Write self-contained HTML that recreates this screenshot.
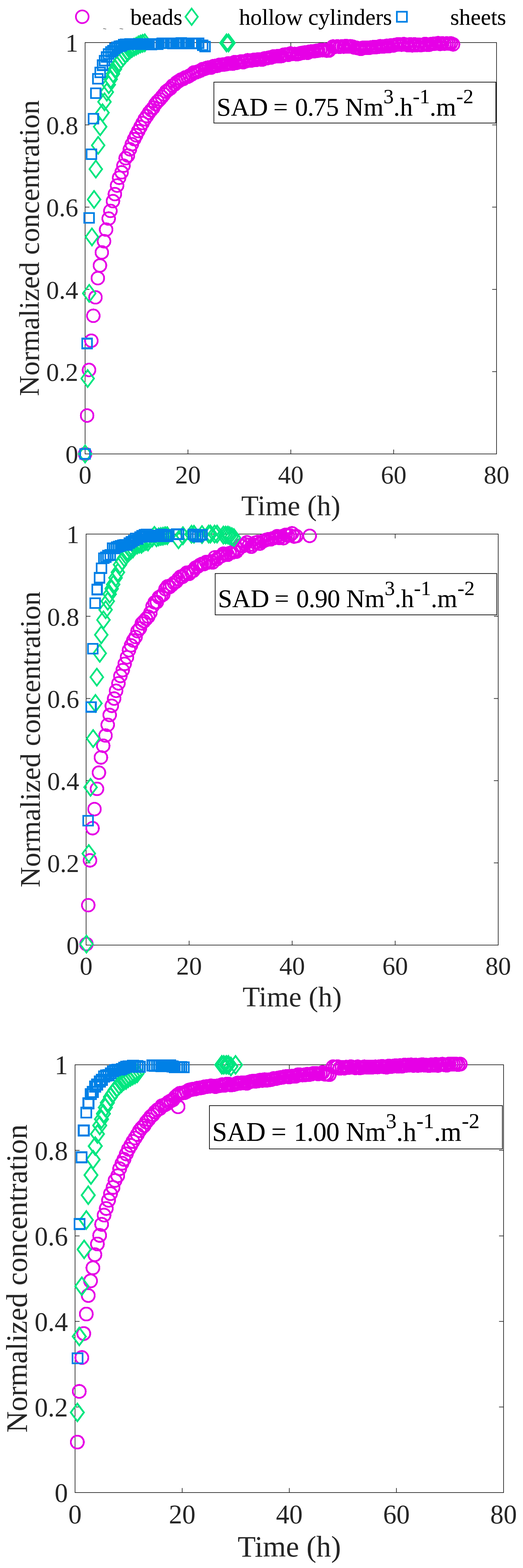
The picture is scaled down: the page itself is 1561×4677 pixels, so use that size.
<!DOCTYPE html>
<html lang="en">
<head>
<meta charset="utf-8">
<title>Normalized concentration vs time</title>
<style>
html,body{margin:0;padding:0;background:#fff;}
body{width:1561px;height:4677px;overflow:hidden;}
svg{display:block;font-family:'Liberation Serif', 'DejaVu Serif', serif;}
</style>
</head>
<body>
<svg width="1561" height="4677" viewBox="0 0 1561 4677" role="img" aria-label="Normalized concentration versus time for beads, hollow cylinders and sheets at three SAD values">
<rect width="1561" height="4677" fill="#fff"/>
<g class="plot">
<rect x="254" y="127" width="1228" height="1227" fill="none" stroke="#262626" stroke-width="2"/>
<path d="M254 1354v-13M254 127v13M561 1354v-13M561 127v13M868 1354v-13M868 127v13M1175 1354v-13M1175 127v13M1482 1354v-13M1482 127v13M254 1354h13M1482 1354h-13M254 1108.6h13M1482 1108.6h-13M254 863.2h13M1482 863.2h-13M254 617.8h13M1482 617.8h-13M254 372.4h13M1482 372.4h-13M254 127h13M1482 127h-13" stroke="#262626" stroke-width="2" fill="none"/>
<g font-size="76.5" fill="#262626">
<text x="254" y="1442" text-anchor="middle">0</text>
<text x="561" y="1442" text-anchor="middle">20</text>
<text x="868" y="1442" text-anchor="middle">40</text>
<text x="1175" y="1442" text-anchor="middle">60</text>
<text x="1482" y="1442" text-anchor="middle">80</text>
<text x="233.5" y="1381.3" text-anchor="end">0</text>
<text x="233.5" y="1135.9" text-anchor="end">0.2</text>
<text x="233.5" y="890.5" text-anchor="end">0.4</text>
<text x="233.5" y="645.1" text-anchor="end">0.6</text>
<text x="233.5" y="399.7" text-anchor="end">0.8</text>
<text x="233.5" y="154.3" text-anchor="end">1</text>
</g>
<text x="868" y="1537" font-size="84.8" fill="#262626" text-anchor="middle">Time (h)</text>
<text transform="translate(116 740) rotate(-90)" font-size="84.8" fill="#262626" text-anchor="middle">Normalized concentration</text>
<g fill="none" stroke="#E600E6" stroke-width="5.3" shape-rendering="crispEdges">
<circle cx="254" cy="1354" r="18.9"/>
<circle cx="260" cy="1239.5" r="18.9"/>
<circle cx="265.7" cy="1103.5" r="18.9"/>
<circle cx="272.7" cy="1016.3" r="18.9"/>
<circle cx="278.5" cy="941.9" r="18.9"/>
<circle cx="285" cy="887" r="18.9"/>
<circle cx="292" cy="829.7" r="18.9"/>
<circle cx="298.3" cy="791.9" r="18.9"/>
<circle cx="304" cy="753" r="18.9"/>
<circle cx="310.5" cy="719.5" r="18.9"/>
<circle cx="316.7" cy="684.9" r="18.9"/>
<circle cx="324.4" cy="651.9" r="18.9"/>
<circle cx="329.5" cy="629" r="18.9"/>
<circle cx="337.2" cy="600" r="18.9"/>
<circle cx="342.8" cy="579" r="18.9"/>
<circle cx="349.5" cy="553.5" r="18.9"/>
<circle cx="355.6" cy="530.2" r="18.9"/>
<circle cx="363" cy="514" r="18.9"/>
<circle cx="368.4" cy="494.2" r="18.9"/>
<circle cx="374.9" cy="472" r="18.9"/>
<circle cx="381.9" cy="464" r="18.9"/>
<circle cx="387.7" cy="445.3" r="18.9"/>
<circle cx="393.5" cy="430.2" r="18.9"/>
<circle cx="400.5" cy="415" r="18.9"/>
<circle cx="406.3" cy="403.5" r="18.9"/>
<circle cx="412.7" cy="391" r="18.9"/>
<circle cx="419.1" cy="378.9" r="18.9"/>
<circle cx="425.5" cy="367" r="18.9"/>
<circle cx="431.9" cy="355.5" r="18.9"/>
<circle cx="438.3" cy="346.3" r="18.9"/>
<circle cx="444.7" cy="336.3" r="18.9"/>
<circle cx="451.1" cy="328.5" r="18.9"/>
<circle cx="457.5" cy="321.2" r="18.9"/>
<circle cx="463.9" cy="310.4" r="18.9"/>
<circle cx="470.3" cy="302.7" r="18.9"/>
<circle cx="476.7" cy="296.6" r="18.9"/>
<circle cx="483.1" cy="289.1" r="18.9"/>
<circle cx="489.4" cy="281.6" r="18.9"/>
<circle cx="495.8" cy="273.2" r="18.9"/>
<circle cx="502.2" cy="268.2" r="18.9"/>
<circle cx="508.6" cy="263.6" r="18.9"/>
<circle cx="515" cy="255.6" r="18.9"/>
<circle cx="521.4" cy="251.9" r="18.9"/>
<circle cx="527.8" cy="245.4" r="18.9"/>
<circle cx="534.2" cy="241.6" r="18.9"/>
<circle cx="540.6" cy="237.3" r="18.9"/>
<circle cx="547" cy="235.5" r="18.9"/>
<circle cx="553.4" cy="230.8" r="18.9"/>
<circle cx="559.8" cy="229.2" r="18.9"/>
<circle cx="566.2" cy="225.6" r="18.9"/>
<circle cx="572.6" cy="221.8" r="18.9"/>
<circle cx="579" cy="216" r="18.9"/>
<circle cx="585.4" cy="215.5" r="18.9"/>
<circle cx="591.8" cy="213.2" r="18.9"/>
<circle cx="598.2" cy="210.6" r="18.9"/>
<circle cx="604.6" cy="206.4" r="18.9"/>
<circle cx="611" cy="205.3" r="18.9"/>
<circle cx="617.4" cy="202.6" r="18.9"/>
<circle cx="623.8" cy="201.1" r="18.9"/>
<circle cx="630.2" cy="201.6" r="18.9"/>
<circle cx="636.6" cy="197.6" r="18.9"/>
<circle cx="642.9" cy="196.7" r="18.9"/>
<circle cx="649.3" cy="196.1" r="18.9"/>
<circle cx="655.7" cy="193.4" r="18.9"/>
<circle cx="662.1" cy="193" r="18.9"/>
<circle cx="668.5" cy="192.4" r="18.9"/>
<circle cx="674.9" cy="191.4" r="18.9"/>
<circle cx="681.3" cy="189" r="18.9"/>
<circle cx="687.7" cy="189.6" r="18.9"/>
<circle cx="694.1" cy="190" r="18.9"/>
<circle cx="700.5" cy="185.4" r="18.9"/>
<circle cx="706.9" cy="187.2" r="18.9"/>
<circle cx="713.3" cy="185.2" r="18.9"/>
<circle cx="719.7" cy="183.2" r="18.9"/>
<circle cx="726.1" cy="185.5" r="18.9"/>
<circle cx="732.5" cy="183.1" r="18.9"/>
<circle cx="738.9" cy="179.9" r="18.9"/>
<circle cx="745.3" cy="180.5" r="18.9"/>
<circle cx="751.7" cy="180.3" r="18.9"/>
<circle cx="758.1" cy="178.5" r="18.9"/>
<circle cx="764.5" cy="178.8" r="18.9"/>
<circle cx="770.9" cy="177.1" r="18.9"/>
<circle cx="777.3" cy="177.2" r="18.9"/>
<circle cx="783.7" cy="177.4" r="18.9"/>
<circle cx="790.1" cy="174" r="18.9"/>
<circle cx="796.4" cy="173.9" r="18.9"/>
<circle cx="802.8" cy="171.9" r="18.9"/>
<circle cx="809.2" cy="171.4" r="18.9"/>
<circle cx="815.6" cy="168.6" r="18.9"/>
<circle cx="822" cy="168.1" r="18.9"/>
<circle cx="828.4" cy="167.5" r="18.9"/>
<circle cx="834.8" cy="167.8" r="18.9"/>
<circle cx="841.2" cy="167" r="18.9"/>
<circle cx="847.6" cy="163" r="18.9"/>
<circle cx="854" cy="162.6" r="18.9"/>
<circle cx="860.4" cy="163.5" r="18.9"/>
<circle cx="866.8" cy="159.7" r="18.9"/>
<circle cx="873.2" cy="161" r="18.9"/>
<circle cx="879.6" cy="160.9" r="18.9"/>
<circle cx="886" cy="161.8" r="18.9"/>
<circle cx="892.4" cy="160.4" r="18.9"/>
<circle cx="898.8" cy="158.4" r="18.9"/>
<circle cx="905.2" cy="157.4" r="18.9"/>
<circle cx="911.6" cy="156.4" r="18.9"/>
<circle cx="918" cy="157.5" r="18.9"/>
<circle cx="924.4" cy="154.1" r="18.9"/>
<circle cx="930.8" cy="153.1" r="18.9"/>
<circle cx="937.2" cy="153" r="18.9"/>
<circle cx="943.6" cy="151.8" r="18.9"/>
<circle cx="949.9" cy="151.1" r="18.9"/>
<circle cx="956.3" cy="149.3" r="18.9"/>
<circle cx="962.7" cy="150" r="18.9"/>
<circle cx="969.1" cy="148.8" r="18.9"/>
<circle cx="975.5" cy="151.1" r="18.9"/>
<circle cx="981.9" cy="150.8" r="18.9"/>
<circle cx="994" cy="138.8" r="18.9"/>
<circle cx="1000.4" cy="139.5" r="18.9"/>
<circle cx="1006.8" cy="138.4" r="18.9"/>
<circle cx="1013.2" cy="139.7" r="18.9"/>
<circle cx="1019.6" cy="138.6" r="18.9"/>
<circle cx="1026" cy="139.2" r="18.9"/>
<circle cx="1032.4" cy="137.3" r="18.9"/>
<circle cx="1038.8" cy="138.9" r="18.9"/>
<circle cx="1045.2" cy="138" r="18.9"/>
<circle cx="1051.6" cy="138.9" r="18.9"/>
<circle cx="1058" cy="142" r="18.9"/>
<circle cx="1064.4" cy="142.7" r="18.9"/>
<circle cx="1070.8" cy="144.2" r="18.9"/>
<circle cx="1077.1" cy="145.9" r="18.9"/>
<circle cx="1083.5" cy="142.5" r="18.9"/>
<circle cx="1089.9" cy="142.4" r="18.9"/>
<circle cx="1096.3" cy="142.8" r="18.9"/>
<circle cx="1102.7" cy="142.4" r="18.9"/>
<circle cx="1109.1" cy="141.1" r="18.9"/>
<circle cx="1115.5" cy="140.4" r="18.9"/>
<circle cx="1121.9" cy="140.6" r="18.9"/>
<circle cx="1128.3" cy="139.8" r="18.9"/>
<circle cx="1134.7" cy="137.9" r="18.9"/>
<circle cx="1141.1" cy="138.5" r="18.9"/>
<circle cx="1147.5" cy="138.2" r="18.9"/>
<circle cx="1153.9" cy="136.8" r="18.9"/>
<circle cx="1160.3" cy="137.7" r="18.9"/>
<circle cx="1166.7" cy="135.5" r="18.9"/>
<circle cx="1173.1" cy="136" r="18.9"/>
<circle cx="1179.5" cy="133.9" r="18.9"/>
<circle cx="1185.9" cy="132.7" r="18.9"/>
<circle cx="1192.3" cy="132.4" r="18.9"/>
<circle cx="1198.7" cy="133.2" r="18.9"/>
<circle cx="1205.1" cy="131.7" r="18.9"/>
<circle cx="1211.5" cy="132.9" r="18.9"/>
<circle cx="1217.9" cy="134.7" r="18.9"/>
<circle cx="1224.3" cy="132.3" r="18.9"/>
<circle cx="1230.6" cy="135.2" r="18.9"/>
<circle cx="1237" cy="132.5" r="18.9"/>
<circle cx="1243.4" cy="134.9" r="18.9"/>
<circle cx="1249.8" cy="133.2" r="18.9"/>
<circle cx="1256.2" cy="134.6" r="18.9"/>
<circle cx="1262.6" cy="133.5" r="18.9"/>
<circle cx="1269" cy="131.3" r="18.9"/>
<circle cx="1275.4" cy="133.6" r="18.9"/>
<circle cx="1281.8" cy="133.3" r="18.9"/>
<circle cx="1288.2" cy="131.2" r="18.9"/>
<circle cx="1294.6" cy="130.5" r="18.9"/>
<circle cx="1301" cy="130.1" r="18.9"/>
<circle cx="1307.4" cy="128.8" r="18.9"/>
<circle cx="1313.8" cy="131.1" r="18.9"/>
<circle cx="1320.2" cy="129.6" r="18.9"/>
<circle cx="1326.6" cy="130.3" r="18.9"/>
<circle cx="1333" cy="129.7" r="18.9"/>
<circle cx="1339.4" cy="130" r="18.9"/>
<circle cx="1345.8" cy="129.6" r="18.9"/>
<circle cx="1352.2" cy="132.3" r="18.9"/>
</g>
<g fill="none" stroke="#00E680" stroke-width="5.2" stroke-linejoin="miter" stroke-miterlimit="10" shape-rendering="crispEdges">
<path d="M254 1328.7l18.9 25.3l-18.9 25.3l-18.9 -25.3zM261.6 1103.7l18.9 25.3l-18.9 25.3l-18.9 -25.3zM266.3 849.7l18.9 25.3l-18.9 25.3l-18.9 -25.3zM274.4 681.4l18.9 25.3l-18.9 25.3l-18.9 -25.3zM280.8 569.7l18.9 25.3l-18.9 25.3l-18.9 -25.3zM286 479.1l18.9 25.3l-18.9 25.3l-18.9 -25.3zM293 408.2l18.9 25.3l-18.9 25.3l-18.9 -25.3zM299 352.7l18.9 25.3l-18.9 25.3l-18.9 -25.3zM306 311l18.9 25.3l-18.9 25.3l-18.9 -25.3zM311.9 278.4l18.9 25.3l-18.9 25.3l-18.9 -25.3zM318.8 249.3l18.9 25.3l-18.9 25.3l-18.9 -25.3zM324.6 227.3l18.9 25.3l-18.9 25.3l-18.9 -25.3z"/>
<path d="M330.5 211l18.9 25.3l-18.9 25.3l-18.9 -25.3zM337.4 194.7l18.9 25.3l-18.9 25.3l-18.9 -25.3zM343.3 180.7l18.9 25.3l-18.9 25.3l-18.9 -25.3zM349 169.1l18.9 25.3l-18.9 25.3l-18.9 -25.3zM355.4 160.5l18.9 25.3l-18.9 25.3l-18.9 -25.3zM361.8 152.5l18.9 25.3l-18.9 25.3l-18.9 -25.3zM368.2 144.6l18.9 25.3l-18.9 25.3l-18.9 -25.3zM374.6 136.8l18.9 25.3l-18.9 25.3l-18.9 -25.3zM381 130.6l18.9 25.3l-18.9 25.3l-18.9 -25.3zM387.4 124.1l18.9 25.3l-18.9 25.3l-18.9 -25.3zM393.8 119.5l18.9 25.3l-18.9 25.3l-18.9 -25.3zM400.2 115.5l18.9 25.3l-18.9 25.3l-18.9 -25.3z"/>
<path d="M406.6 112.7l18.9 25.3l-18.9 25.3l-18.9 -25.3zM413 108.6l18.9 25.3l-18.9 25.3l-18.9 -25.3zM419.4 106l18.9 25.3l-18.9 25.3l-18.9 -25.3zM425.8 104.1l18.9 25.3l-18.9 25.3l-18.9 -25.3zM432.1 102.4l18.9 25.3l-18.9 25.3l-18.9 -25.3zM676 102.7l18.9 25.3l-18.9 25.3l-18.9 -25.3zM682 102.7l18.9 25.3l-18.9 25.3l-18.9 -25.3z"/>
</g>
<g fill="none" stroke="#0080E6" stroke-width="5.2" shape-rendering="crispEdges">
<rect x="239.6" y="1339.5" width="28.9" height="28.9"/>
<rect x="245.6" y="1010" width="28.9" height="28.9"/>
<rect x="251.9" y="635.3" width="28.9" height="28.9"/>
<rect x="258.2" y="445.2" width="28.9" height="28.9"/>
<rect x="264.1" y="339.4" width="28.9" height="28.9"/>
<rect x="271.1" y="263.2" width="28.9" height="28.9"/>
<rect x="277.2" y="220.8" width="28.9" height="28.9"/>
<rect x="284.6" y="201.6" width="28.9" height="28.9"/>
<rect x="291.2" y="180" width="28.9" height="28.9"/>
<rect x="297.4" y="166.8" width="28.9" height="28.9"/>
<rect x="303.6" y="155.2" width="28.9" height="28.9"/>
<rect x="309.9" y="146.9" width="28.9" height="28.9"/>
<rect x="316.2" y="140.6" width="28.9" height="28.9"/>
<rect x="322.6" y="136.1" width="28.9" height="28.9"/>
<rect x="328.6" y="130.1" width="28.9" height="28.9"/>
<rect x="334.9" y="126.2" width="28.9" height="28.9"/>
<rect x="341.3" y="123.9" width="28.9" height="28.9"/>
<rect x="347.7" y="122.4" width="28.9" height="28.9"/>
<rect x="354.1" y="118.7" width="28.9" height="28.9"/>
<rect x="360.5" y="117.4" width="28.9" height="28.9"/>
<rect x="366.9" y="117.1" width="28.9" height="28.9"/>
<rect x="373.3" y="116.4" width="28.9" height="28.9"/>
<rect x="379.7" y="117.8" width="28.9" height="28.9"/>
<rect x="386.1" y="117.3" width="28.9" height="28.9"/>
<rect x="392.5" y="117.2" width="28.9" height="28.9"/>
<rect x="398.9" y="116.7" width="28.9" height="28.9"/>
<rect x="405.3" y="117.3" width="28.9" height="28.9"/>
<rect x="411.7" y="116.8" width="28.9" height="28.9"/>
<rect x="418.1" y="117" width="28.9" height="28.9"/>
<rect x="424.5" y="116.5" width="28.9" height="28.9"/>
<rect x="430.9" y="116.5" width="28.9" height="28.9"/>
<rect x="437.3" y="118" width="28.9" height="28.9"/>
<rect x="443.7" y="116.9" width="28.9" height="28.9"/>
<rect x="450.1" y="117.3" width="28.9" height="28.9"/>
<rect x="456.5" y="117.1" width="28.9" height="28.9"/>
<rect x="469.3" y="114.2" width="28.9" height="28.9"/>
<rect x="475.7" y="114.9" width="28.9" height="28.9"/>
<rect x="482.1" y="114.4" width="28.9" height="28.9"/>
<rect x="488.4" y="114.5" width="28.9" height="28.9"/>
<rect x="494.8" y="114.6" width="28.9" height="28.9"/>
<rect x="501.2" y="115.3" width="28.9" height="28.9"/>
<rect x="514" y="114.8" width="28.9" height="28.9"/>
<rect x="520.4" y="114.2" width="28.9" height="28.9"/>
<rect x="526.8" y="113.7" width="28.9" height="28.9"/>
<rect x="533.2" y="115.1" width="28.9" height="28.9"/>
<rect x="539.6" y="115.1" width="28.9" height="28.9"/>
<rect x="546" y="114.5" width="28.9" height="28.9"/>
<rect x="558.8" y="115" width="28.9" height="28.9"/>
<rect x="565.2" y="115" width="28.9" height="28.9"/>
<rect x="571.6" y="115.1" width="28.9" height="28.9"/>
<rect x="578" y="114.3" width="28.9" height="28.9"/>
<rect x="590.8" y="120.5" width="28.9" height="28.9"/>
<rect x="597.2" y="124.1" width="28.9" height="28.9"/>
</g>
<rect x="638.4" y="245" width="841.6" height="122" fill="#fff" stroke="#000" stroke-width="2"/>
<g fill="#000" stroke="#000" stroke-width="0.2">
<text x="646.8" y="344.5" font-size="76.5">SAD</text>
<text x="816" y="344.5" font-size="76.5">=</text>
<text x="880.7" y="344.5" font-size="76.5" letter-spacing="-1">0.75</text>
<text x="1030" y="344.5" font-size="76.5">Nm</text>
<text x="1144.5" y="308" font-size="61.2">3</text>
<text x="1174.5" y="344.5" font-size="76.5">.h</text>
<text x="1232" y="308" font-size="61.2">-1</text>
<text x="1282.5" y="344.5" font-size="76.5">.m</text>
<text x="1362" y="308" font-size="61.2">-2</text>
</g>
</g>
<g class="plot">
<rect x="257" y="1593" width="1230" height="1226" fill="none" stroke="#262626" stroke-width="2"/>
<path d="M257 2819v-13M257 1593v13M564.5 2819v-13M564.5 1593v13M872 2819v-13M872 1593v13M1179.5 2819v-13M1179.5 1593v13M1487 2819v-13M1487 1593v13M257 2819h13M1487 2819h-13M257 2573.8h13M1487 2573.8h-13M257 2328.6h13M1487 2328.6h-13M257 2083.4h13M1487 2083.4h-13M257 1838.2h13M1487 1838.2h-13M257 1593h13M1487 1593h-13" stroke="#262626" stroke-width="2" fill="none"/>
<g font-size="76.5" fill="#262626">
<text x="257" y="2907" text-anchor="middle">0</text>
<text x="564.5" y="2907" text-anchor="middle">20</text>
<text x="872" y="2907" text-anchor="middle">40</text>
<text x="1179.5" y="2907" text-anchor="middle">60</text>
<text x="1487" y="2907" text-anchor="middle">80</text>
<text x="236.5" y="2846.3" text-anchor="end">0</text>
<text x="236.5" y="2601.1" text-anchor="end">0.2</text>
<text x="236.5" y="2355.9" text-anchor="end">0.4</text>
<text x="236.5" y="2110.7" text-anchor="end">0.6</text>
<text x="236.5" y="1865.5" text-anchor="end">0.8</text>
<text x="236.5" y="1620.3" text-anchor="end">1</text>
</g>
<text x="872" y="3002" font-size="84.8" fill="#262626" text-anchor="middle">Time (h)</text>
<text transform="translate(119 2205.5) rotate(-90)" font-size="84.8" fill="#262626" text-anchor="middle">Normalized concentration</text>
<g fill="none" stroke="#E600E6" stroke-width="5.3" shape-rendering="crispEdges">
<circle cx="258" cy="2816" r="18.9"/>
<circle cx="263.4" cy="2700" r="18.9"/>
<circle cx="268.6" cy="2566.3" r="18.9"/>
<circle cx="276.2" cy="2470.3" r="18.9"/>
<circle cx="282" cy="2413.4" r="18.9"/>
<circle cx="289.5" cy="2353" r="18.9"/>
<circle cx="295.3" cy="2304.7" r="18.9"/>
<circle cx="301.2" cy="2259.3" r="18.9"/>
<circle cx="308.1" cy="2224.4" r="18.9"/>
<circle cx="315" cy="2194" r="18.9"/>
<circle cx="321.5" cy="2162" r="18.9"/>
<circle cx="327.4" cy="2132.6" r="18.9"/>
<circle cx="333.7" cy="2105.3" r="18.9"/>
<circle cx="340.7" cy="2083.7" r="18.9"/>
<circle cx="346.5" cy="2060.5" r="18.9"/>
<circle cx="353.5" cy="2038.4" r="18.9"/>
<circle cx="359.3" cy="2016.3" r="18.9"/>
<circle cx="366.3" cy="1998.8" r="18.9"/>
<circle cx="372.1" cy="1980.2" r="18.9"/>
<circle cx="379" cy="1960.5" r="18.9"/>
<circle cx="384.9" cy="1939.5" r="18.9"/>
<circle cx="391" cy="1925" r="18.9"/>
<circle cx="397.7" cy="1910.5" r="18.9"/>
<circle cx="404.7" cy="1900" r="18.9"/>
<circle cx="410.5" cy="1882.6" r="18.9"/>
<circle cx="417.4" cy="1874.4" r="18.9"/>
<circle cx="423.3" cy="1859.3" r="18.9"/>
<circle cx="429.7" cy="1853.1" r="18.9"/>
<circle cx="436.1" cy="1846" r="18.9"/>
<circle cx="442.5" cy="1839.2" r="18.9"/>
<circle cx="448.9" cy="1827.5" r="18.9"/>
<circle cx="455.3" cy="1808.3" r="18.9"/>
<circle cx="461.7" cy="1796.8" r="18.9"/>
<circle cx="468.1" cy="1795.9" r="18.9"/>
<circle cx="474.5" cy="1781.5" r="18.9"/>
<circle cx="480.9" cy="1777.5" r="18.9"/>
<circle cx="487.4" cy="1773.1" r="18.9"/>
<circle cx="493.8" cy="1757.5" r="18.9"/>
<circle cx="500.2" cy="1748.9" r="18.9"/>
<circle cx="506.6" cy="1750.8" r="18.9"/>
<circle cx="513" cy="1745" r="18.9"/>
<circle cx="519.4" cy="1739" r="18.9"/>
<circle cx="525.8" cy="1735" r="18.9"/>
<circle cx="532.2" cy="1727.2" r="18.9"/>
<circle cx="538.6" cy="1720.4" r="18.9"/>
<circle cx="545" cy="1720.5" r="18.9"/>
<circle cx="551.4" cy="1714" r="18.9"/>
<circle cx="557.8" cy="1708" r="18.9"/>
<circle cx="564.2" cy="1711.8" r="18.9"/>
<circle cx="570.6" cy="1705.5" r="18.9"/>
<circle cx="577" cy="1702.5" r="18.9"/>
<circle cx="583.5" cy="1693.1" r="18.9"/>
<circle cx="589.9" cy="1690.2" r="18.9"/>
<circle cx="596.3" cy="1685.3" r="18.9"/>
<circle cx="602.7" cy="1682" r="18.9"/>
<circle cx="609.1" cy="1682.5" r="18.9"/>
<circle cx="615.5" cy="1676.3" r="18.9"/>
<circle cx="621.9" cy="1677.6" r="18.9"/>
<circle cx="628.3" cy="1674.8" r="18.9"/>
<circle cx="634.7" cy="1677.7" r="18.9"/>
<circle cx="641.1" cy="1662.7" r="18.9"/>
<circle cx="647.5" cy="1667.7" r="18.9"/>
<circle cx="653.9" cy="1661.2" r="18.9"/>
<circle cx="660.3" cy="1658.9" r="18.9"/>
<circle cx="666.7" cy="1651.6" r="18.9"/>
<circle cx="673.1" cy="1652.9" r="18.9"/>
<circle cx="679.5" cy="1654.9" r="18.9"/>
<circle cx="686" cy="1649.8" r="18.9"/>
<circle cx="692.4" cy="1648.2" r="18.9"/>
<circle cx="698.8" cy="1643.9" r="18.9"/>
<circle cx="705.2" cy="1645.6" r="18.9"/>
<circle cx="711.6" cy="1638.1" r="18.9"/>
<circle cx="718" cy="1627.2" r="18.9"/>
<circle cx="724.4" cy="1629.1" r="18.9"/>
<circle cx="730.8" cy="1623.3" r="18.9"/>
<circle cx="737.2" cy="1617.5" r="18.9"/>
<circle cx="743.6" cy="1625.6" r="18.9"/>
<circle cx="750" cy="1630.8" r="18.9"/>
<circle cx="756.4" cy="1624.9" r="18.9"/>
<circle cx="762.8" cy="1618.4" r="18.9"/>
<circle cx="769.2" cy="1616.7" r="18.9"/>
<circle cx="775.6" cy="1621.5" r="18.9"/>
<circle cx="782" cy="1615.6" r="18.9"/>
<circle cx="788.5" cy="1612.9" r="18.9"/>
<circle cx="794.9" cy="1610.3" r="18.9"/>
<circle cx="801.3" cy="1608.4" r="18.9"/>
<circle cx="807.7" cy="1608.9" r="18.9"/>
<circle cx="814.1" cy="1605.9" r="18.9"/>
<circle cx="820.5" cy="1604.3" r="18.9"/>
<circle cx="826.9" cy="1599.5" r="18.9"/>
<circle cx="833.3" cy="1604.5" r="18.9"/>
<circle cx="839.7" cy="1599.8" r="18.9"/>
<circle cx="846.1" cy="1605.2" r="18.9"/>
<circle cx="852.5" cy="1595.4" r="18.9"/>
<circle cx="858.9" cy="1597.9" r="18.9"/>
<circle cx="865.3" cy="1596.9" r="18.9"/>
<circle cx="871.7" cy="1590.8" r="18.9"/>
<circle cx="878.1" cy="1600.3" r="18.9"/>
<circle cx="884.5" cy="1599.1" r="18.9"/>
<circle cx="924.4" cy="1598.4" r="18.9"/>
</g>
<g fill="none" stroke="#00E680" stroke-width="5.2" stroke-linejoin="miter" stroke-miterlimit="10" shape-rendering="crispEdges">
<path d="M258 2790.7l18.9 25.3l-18.9 25.3l-18.9 -25.3zM265 2520.7l18.9 25.3l-18.9 25.3l-18.9 -25.3zM270.3 2323l18.9 25.3l-18.9 25.3l-18.9 -25.3zM278 2177.7l18.9 25.3l-18.9 25.3l-18.9 -25.3zM284.9 2072.7l18.9 25.3l-18.9 25.3l-18.9 -25.3zM289 1994.4l18.9 25.3l-18.9 25.3l-18.9 -25.3zM297.7 1923.4l18.9 25.3l-18.9 25.3l-18.9 -25.3zM302.3 1868.2l18.9 25.3l-18.9 25.3l-18.9 -25.3zM308.8 1823.7l18.9 25.3l-18.9 25.3l-18.9 -25.3zM315.3 1793.5l18.9 25.3l-18.9 25.3l-18.9 -25.3zM321.6 1768l18.9 25.3l-18.9 25.3l-18.9 -25.3zM327.4 1747l18.9 25.3l-18.9 25.3l-18.9 -25.3z"/>
<path d="M333.3 1730.7l18.9 25.3l-18.9 25.3l-18.9 -25.3zM337.9 1718l18.9 25.3l-18.9 25.3l-18.9 -25.3zM344.9 1698.2l18.9 25.3l-18.9 25.3l-18.9 -25.3zM351.9 1681.9l18.9 25.3l-18.9 25.3l-18.9 -25.3zM358.3 1658.8l18.9 25.3l-18.9 25.3l-18.9 -25.3zM364.7 1648l18.9 25.3l-18.9 25.3l-18.9 -25.3zM371.1 1638.5l18.9 25.3l-18.9 25.3l-18.9 -25.3zM377.5 1622.5l18.9 25.3l-18.9 25.3l-18.9 -25.3zM383.9 1623.1l18.9 25.3l-18.9 25.3l-18.9 -25.3zM390.3 1616.9l18.9 25.3l-18.9 25.3l-18.9 -25.3zM396.7 1612l18.9 25.3l-18.9 25.3l-18.9 -25.3zM403.1 1603.7l18.9 25.3l-18.9 25.3l-18.9 -25.3z"/>
<path d="M409.6 1600.7l18.9 25.3l-18.9 25.3l-18.9 -25.3zM416 1597.8l18.9 25.3l-18.9 25.3l-18.9 -25.3zM422.4 1598.1l18.9 25.3l-18.9 25.3l-18.9 -25.3zM428.8 1593l18.9 25.3l-18.9 25.3l-18.9 -25.3zM435.2 1589.8l18.9 25.3l-18.9 25.3l-18.9 -25.3zM441.6 1591.2l18.9 25.3l-18.9 25.3l-18.9 -25.3zM448 1583l18.9 25.3l-18.9 25.3l-18.9 -25.3zM454.4 1579l18.9 25.3l-18.9 25.3l-18.9 -25.3zM460.8 1571.5l18.9 25.3l-18.9 25.3l-18.9 -25.3zM467.2 1578.9l18.9 25.3l-18.9 25.3l-18.9 -25.3zM473.6 1576.2l18.9 25.3l-18.9 25.3l-18.9 -25.3zM480 1575l18.9 25.3l-18.9 25.3l-18.9 -25.3z"/>
<path d="M486.4 1574.1l18.9 25.3l-18.9 25.3l-18.9 -25.3zM492.8 1572.5l18.9 25.3l-18.9 25.3l-18.9 -25.3zM499.2 1572.5l18.9 25.3l-18.9 25.3l-18.9 -25.3zM532.8 1584.7l18.9 25.3l-18.9 25.3l-18.9 -25.3zM546 1572.7l18.9 25.3l-18.9 25.3l-18.9 -25.3zM571.5 1568.2l18.9 25.3l-18.9 25.3l-18.9 -25.3zM578.8 1568.2l18.9 25.3l-18.9 25.3l-18.9 -25.3zM602.9 1569.2l18.9 25.3l-18.9 25.3l-18.9 -25.3zM622.8 1567.7l18.9 25.3l-18.9 25.3l-18.9 -25.3zM628 1567.7l18.9 25.3l-18.9 25.3l-18.9 -25.3zM640.6 1567.7l18.9 25.3l-18.9 25.3l-18.9 -25.3zM647.9 1567.7l18.9 25.3l-18.9 25.3l-18.9 -25.3z"/>
<path d="M666.7 1570.7l18.9 25.3l-18.9 25.3l-18.9 -25.3zM673.5 1570.7l18.9 25.3l-18.9 25.3l-18.9 -25.3zM680.3 1570.7l18.9 25.3l-18.9 25.3l-18.9 -25.3zM685.6 1572.7l18.9 25.3l-18.9 25.3l-18.9 -25.3zM691.9 1575.1l18.9 25.3l-18.9 25.3l-18.9 -25.3zM698.1 1578.2l18.9 25.3l-18.9 25.3l-18.9 -25.3z"/>
</g>
<g fill="none" stroke="#0080E6" stroke-width="5.2" shape-rendering="crispEdges">
<rect x="248.9" y="2433.9" width="28.9" height="28.9"/>
<rect x="257.1" y="2094.2" width="28.9" height="28.9"/>
<rect x="262.9" y="1920.8" width="28.9" height="28.9"/>
<rect x="269.2" y="1784.3" width="28.9" height="28.9"/>
<rect x="275.1" y="1744" width="28.9" height="28.9"/>
<rect x="282.2" y="1709" width="28.9" height="28.9"/>
<rect x="288.2" y="1680.5" width="28.9" height="28.9"/>
<rect x="295.1" y="1650.5" width="28.9" height="28.9"/>
<rect x="301.4" y="1647.5" width="28.9" height="28.9"/>
<rect x="307.6" y="1642.5" width="28.9" height="28.9"/>
<rect x="314.2" y="1641.1" width="28.9" height="28.9"/>
<rect x="321.2" y="1620.2" width="28.9" height="28.9"/>
<rect x="327.6" y="1621.5" width="28.9" height="28.9"/>
<rect x="333.6" y="1617.5" width="28.9" height="28.9"/>
<rect x="339.2" y="1615.5" width="28.9" height="28.9"/>
<rect x="345.7" y="1613.2" width="28.9" height="28.9"/>
<rect x="352.1" y="1611.8" width="28.9" height="28.9"/>
<rect x="358.5" y="1611" width="28.9" height="28.9"/>
<rect x="364.9" y="1611.9" width="28.9" height="28.9"/>
<rect x="371.3" y="1605.6" width="28.9" height="28.9"/>
<rect x="377.7" y="1601.4" width="28.9" height="28.9"/>
<rect x="384.1" y="1597.4" width="28.9" height="28.9"/>
<rect x="390.5" y="1591.5" width="28.9" height="28.9"/>
<rect x="396.9" y="1593.2" width="28.9" height="28.9"/>
<rect x="403.3" y="1587.6" width="28.9" height="28.9"/>
<rect x="409.7" y="1584" width="28.9" height="28.9"/>
<rect x="416.1" y="1580.9" width="28.9" height="28.9"/>
<rect x="422.5" y="1579.2" width="28.9" height="28.9"/>
<rect x="428.9" y="1582.9" width="28.9" height="28.9"/>
<rect x="435.3" y="1586.3" width="28.9" height="28.9"/>
<rect x="441.7" y="1583.1" width="28.9" height="28.9"/>
<rect x="448.2" y="1584.2" width="28.9" height="28.9"/>
<rect x="454.6" y="1584.8" width="28.9" height="28.9"/>
<rect x="461" y="1585.3" width="28.9" height="28.9"/>
<rect x="467.4" y="1579.6" width="28.9" height="28.9"/>
<rect x="473.8" y="1583" width="28.9" height="28.9"/>
<rect x="480.2" y="1580.5" width="28.9" height="28.9"/>
<rect x="486.6" y="1585.1" width="28.9" height="28.9"/>
<rect x="562.9" y="1579.3" width="28.9" height="28.9"/>
<rect x="569.4" y="1583.5" width="28.9" height="28.9"/>
<rect x="575.8" y="1586.6" width="28.9" height="28.9"/>
<rect x="582.2" y="1581.3" width="28.9" height="28.9"/>
<rect x="588.6" y="1580.7" width="28.9" height="28.9"/>
<rect x="512.5" y="1579" width="28.9" height="28.9"/>
<rect x="518.8" y="1579" width="28.9" height="28.9"/>
</g>
<rect x="642.3" y="1710.7" width="840.4" height="123.3" fill="#fff" stroke="#000" stroke-width="2"/>
<g fill="#000" stroke="#000" stroke-width="0.2">
<text x="650.4" y="1811.2" font-size="76.5">SAD</text>
<text x="819.6" y="1811.2" font-size="76.5">=</text>
<text x="884.3" y="1811.2" font-size="76.5" letter-spacing="-1">0.90</text>
<text x="1033.6" y="1811.2" font-size="76.5">Nm</text>
<text x="1148.1" y="1774.7" font-size="61.2">3</text>
<text x="1178.1" y="1811.2" font-size="76.5">.h</text>
<text x="1235.6" y="1774.7" font-size="61.2">-1</text>
<text x="1286.1" y="1811.2" font-size="76.5">.m</text>
<text x="1365.6" y="1774.7" font-size="61.2">-2</text>
</g>
</g>
<g class="plot">
<rect x="224" y="3176" width="1279" height="1276" fill="none" stroke="#262626" stroke-width="2"/>
<path d="M224 4452v-13.5M224 3176v13.5M543.8 4452v-13.5M543.8 3176v13.5M863.5 4452v-13.5M863.5 3176v13.5M1183.2 4452v-13.5M1183.2 3176v13.5M1503 4452v-13.5M1503 3176v13.5M224 4452h13.5M1503 4452h-13.5M224 4196.8h13.5M1503 4196.8h-13.5M224 3941.6h13.5M1503 3941.6h-13.5M224 3686.4h13.5M1503 3686.4h-13.5M224 3431.2h13.5M1503 3431.2h-13.5M224 3176h13.5M1503 3176h-13.5" stroke="#262626" stroke-width="2" fill="none"/>
<g font-size="79.6" fill="#262626">
<text x="224" y="4543.6" text-anchor="middle">0</text>
<text x="543.8" y="4543.6" text-anchor="middle">20</text>
<text x="863.5" y="4543.6" text-anchor="middle">40</text>
<text x="1183.2" y="4543.6" text-anchor="middle">60</text>
<text x="1503" y="4543.6" text-anchor="middle">80</text>
<text x="202.7" y="4480.4" text-anchor="end">0</text>
<text x="202.7" y="4225.2" text-anchor="end">0.2</text>
<text x="202.7" y="3970" text-anchor="end">0.4</text>
<text x="202.7" y="3714.8" text-anchor="end">0.6</text>
<text x="202.7" y="3459.6" text-anchor="end">0.8</text>
<text x="202.7" y="3204.4" text-anchor="end">1</text>
</g>
<text x="863.5" y="4642.5" font-size="88.3" fill="#262626" text-anchor="middle">Time (h)</text>
<text transform="translate(80.3 3813.5) rotate(-90)" font-size="88.3" fill="#262626" text-anchor="middle">Normalized concentration</text>
<g fill="none" stroke="#E600E6" stroke-width="5.4" shape-rendering="crispEdges">
<circle cx="230.8" cy="4301.5" r="19.3"/>
<circle cx="236.6" cy="4150.3" r="19.3"/>
<circle cx="244.2" cy="4049.2" r="19.3"/>
<circle cx="250" cy="3977.7" r="19.3"/>
<circle cx="257.6" cy="3919.5" r="19.3"/>
<circle cx="263.4" cy="3864.3" r="19.3"/>
<circle cx="270.3" cy="3820.7" r="19.3"/>
<circle cx="277.3" cy="3781.7" r="19.3"/>
<circle cx="283.1" cy="3742.4" r="19.3"/>
<circle cx="290.7" cy="3710.5" r="19.3"/>
<circle cx="297.4" cy="3684.9" r="19.3"/>
<circle cx="303.3" cy="3651.9" r="19.3"/>
<circle cx="310.7" cy="3624.4" r="19.3"/>
<circle cx="317.2" cy="3604.7" r="19.3"/>
<circle cx="324" cy="3580.2" r="19.3"/>
<circle cx="329.8" cy="3560.5" r="19.3"/>
<circle cx="337.4" cy="3541.9" r="19.3"/>
<circle cx="343.3" cy="3521" r="19.3"/>
<circle cx="351.4" cy="3507" r="19.3"/>
<circle cx="357.2" cy="3486" r="19.3"/>
<circle cx="364.2" cy="3469.8" r="19.3"/>
<circle cx="370" cy="3458.1" r="19.3"/>
<circle cx="377" cy="3441.9" r="19.3"/>
<circle cx="383.3" cy="3427.9" r="19.3"/>
<circle cx="390.2" cy="3416.3" r="19.3"/>
<circle cx="396.7" cy="3404.7" r="19.3"/>
<circle cx="403.4" cy="3394.5" r="19.3"/>
<circle cx="410.1" cy="3383.9" r="19.3"/>
<circle cx="416.7" cy="3372.3" r="19.3"/>
<circle cx="423.4" cy="3363.7" r="19.3"/>
<circle cx="430" cy="3357.6" r="19.3"/>
<circle cx="436.7" cy="3347" r="19.3"/>
<circle cx="443.4" cy="3339.3" r="19.3"/>
<circle cx="450" cy="3330.4" r="19.3"/>
<circle cx="456.7" cy="3325" r="19.3"/>
<circle cx="463.4" cy="3316.6" r="19.3"/>
<circle cx="470" cy="3310.3" r="19.3"/>
<circle cx="476.7" cy="3306.7" r="19.3"/>
<circle cx="483.3" cy="3298.2" r="19.3"/>
<circle cx="490" cy="3296.5" r="19.3"/>
<circle cx="496.7" cy="3292.9" r="19.3"/>
<circle cx="503.3" cy="3287.3" r="19.3"/>
<circle cx="510" cy="3283.5" r="19.3"/>
<circle cx="516.6" cy="3280.1" r="19.3"/>
<circle cx="523.3" cy="3272" r="19.3"/>
<circle cx="530" cy="3266" r="19.3"/>
<circle cx="536.6" cy="3261.3" r="19.3"/>
<circle cx="543.3" cy="3260.4" r="19.3"/>
<circle cx="550" cy="3259.5" r="19.3"/>
<circle cx="556.6" cy="3256.3" r="19.3"/>
<circle cx="563.3" cy="3251.8" r="19.3"/>
<circle cx="569.9" cy="3250.2" r="19.3"/>
<circle cx="576.6" cy="3248.8" r="19.3"/>
<circle cx="583.3" cy="3248" r="19.3"/>
<circle cx="589.9" cy="3245.9" r="19.3"/>
<circle cx="596.6" cy="3245.2" r="19.3"/>
<circle cx="603.2" cy="3244.1" r="19.3"/>
<circle cx="609.9" cy="3242.1" r="19.3"/>
<circle cx="616.6" cy="3241.2" r="19.3"/>
<circle cx="623.2" cy="3240.5" r="19.3"/>
<circle cx="629.9" cy="3239.1" r="19.3"/>
<circle cx="636.6" cy="3239.6" r="19.3"/>
<circle cx="643.2" cy="3241" r="19.3"/>
<circle cx="649.9" cy="3239" r="19.3"/>
<circle cx="656.5" cy="3237.9" r="19.3"/>
<circle cx="663.2" cy="3235.3" r="19.3"/>
<circle cx="669.9" cy="3237.3" r="19.3"/>
<circle cx="676.5" cy="3233.9" r="19.3"/>
<circle cx="683.2" cy="3234.1" r="19.3"/>
<circle cx="689.8" cy="3236.3" r="19.3"/>
<circle cx="696.5" cy="3235.3" r="19.3"/>
<circle cx="703.2" cy="3233.3" r="19.3"/>
<circle cx="709.8" cy="3230.4" r="19.3"/>
<circle cx="716.5" cy="3231" r="19.3"/>
<circle cx="723.1" cy="3229.6" r="19.3"/>
<circle cx="729.8" cy="3230.2" r="19.3"/>
<circle cx="736.5" cy="3231.2" r="19.3"/>
<circle cx="743.1" cy="3227.8" r="19.3"/>
<circle cx="749.8" cy="3225.8" r="19.3"/>
<circle cx="756.5" cy="3224.5" r="19.3"/>
<circle cx="763.1" cy="3225" r="19.3"/>
<circle cx="769.8" cy="3224.1" r="19.3"/>
<circle cx="776.4" cy="3222.1" r="19.3"/>
<circle cx="783.1" cy="3222.8" r="19.3"/>
<circle cx="789.8" cy="3220.4" r="19.3"/>
<circle cx="796.4" cy="3222.1" r="19.3"/>
<circle cx="803.1" cy="3221" r="19.3"/>
<circle cx="809.7" cy="3220" r="19.3"/>
<circle cx="816.4" cy="3217.2" r="19.3"/>
<circle cx="823.1" cy="3217.3" r="19.3"/>
<circle cx="829.7" cy="3215.6" r="19.3"/>
<circle cx="836.4" cy="3214.3" r="19.3"/>
<circle cx="843.1" cy="3213.5" r="19.3"/>
<circle cx="849.7" cy="3211.5" r="19.3"/>
<circle cx="856.4" cy="3210.5" r="19.3"/>
<circle cx="863" cy="3212.3" r="19.3"/>
<circle cx="869.7" cy="3210.3" r="19.3"/>
<circle cx="876.4" cy="3209.9" r="19.3"/>
<circle cx="883" cy="3210" r="19.3"/>
<circle cx="889.7" cy="3205.9" r="19.3"/>
<circle cx="896.3" cy="3206.3" r="19.3"/>
<circle cx="903" cy="3206.6" r="19.3"/>
<circle cx="909.7" cy="3206.1" r="19.3"/>
<circle cx="916.3" cy="3204.4" r="19.3"/>
<circle cx="923" cy="3205.2" r="19.3"/>
<circle cx="929.7" cy="3203.7" r="19.3"/>
<circle cx="936.3" cy="3201.6" r="19.3"/>
<circle cx="943" cy="3201.5" r="19.3"/>
<circle cx="949.6" cy="3203.2" r="19.3"/>
<circle cx="956.3" cy="3202.4" r="19.3"/>
<circle cx="963" cy="3199.1" r="19.3"/>
<circle cx="969.6" cy="3203.9" r="19.3"/>
<circle cx="976.3" cy="3203.8" r="19.3"/>
<circle cx="982.9" cy="3205.5" r="19.3"/>
<circle cx="994" cy="3182" r="19.3"/>
<circle cx="1000.7" cy="3182.5" r="19.3"/>
<circle cx="1007.3" cy="3181.8" r="19.3"/>
<circle cx="1014" cy="3186.5" r="19.3"/>
<circle cx="1020.6" cy="3183.5" r="19.3"/>
<circle cx="1027.3" cy="3185.9" r="19.3"/>
<circle cx="1034" cy="3183.2" r="19.3"/>
<circle cx="1040.6" cy="3184.1" r="19.3"/>
<circle cx="1047.3" cy="3181.9" r="19.3"/>
<circle cx="1054" cy="3183.4" r="19.3"/>
<circle cx="1060.6" cy="3185" r="19.3"/>
<circle cx="1067.3" cy="3182.2" r="19.3"/>
<circle cx="1073.9" cy="3185" r="19.3"/>
<circle cx="1080.6" cy="3184" r="19.3"/>
<circle cx="1087.3" cy="3182.3" r="19.3"/>
<circle cx="1093.9" cy="3182.9" r="19.3"/>
<circle cx="1100.6" cy="3182.9" r="19.3"/>
<circle cx="1107.2" cy="3183.3" r="19.3"/>
<circle cx="1113.9" cy="3182.7" r="19.3"/>
<circle cx="1120.6" cy="3182.3" r="19.3"/>
<circle cx="1127.2" cy="3182.6" r="19.3"/>
<circle cx="1133.9" cy="3181.5" r="19.3"/>
<circle cx="1140.6" cy="3180.9" r="19.3"/>
<circle cx="1147.2" cy="3182.1" r="19.3"/>
<circle cx="1153.9" cy="3183" r="19.3"/>
<circle cx="1160.5" cy="3179.8" r="19.3"/>
<circle cx="1167.2" cy="3181.3" r="19.3"/>
<circle cx="1173.9" cy="3179.9" r="19.3"/>
<circle cx="1180.5" cy="3178.9" r="19.3"/>
<circle cx="1187.2" cy="3180.5" r="19.3"/>
<circle cx="1193.8" cy="3178.3" r="19.3"/>
<circle cx="1200.5" cy="3180.1" r="19.3"/>
<circle cx="1207.2" cy="3176.8" r="19.3"/>
<circle cx="1213.8" cy="3177.7" r="19.3"/>
<circle cx="1220.5" cy="3176.9" r="19.3"/>
<circle cx="1227.2" cy="3176.3" r="19.3"/>
<circle cx="1233.8" cy="3177.9" r="19.3"/>
<circle cx="1240.5" cy="3177" r="19.3"/>
<circle cx="1247.1" cy="3177.9" r="19.3"/>
<circle cx="1253.8" cy="3177.1" r="19.3"/>
<circle cx="1260.5" cy="3175.9" r="19.3"/>
<circle cx="1267.1" cy="3177.1" r="19.3"/>
<circle cx="1273.8" cy="3177.3" r="19.3"/>
<circle cx="1280.4" cy="3178.4" r="19.3"/>
<circle cx="1287.1" cy="3176.1" r="19.3"/>
<circle cx="1293.8" cy="3177.2" r="19.3"/>
<circle cx="1300.4" cy="3175.1" r="19.3"/>
<circle cx="1307.1" cy="3177.9" r="19.3"/>
<circle cx="1313.8" cy="3175.5" r="19.3"/>
<circle cx="1320.4" cy="3174.3" r="19.3"/>
<circle cx="1327.1" cy="3176.1" r="19.3"/>
<circle cx="1333.7" cy="3177.2" r="19.3"/>
<circle cx="1340.4" cy="3173.7" r="19.3"/>
<circle cx="1347.1" cy="3173.9" r="19.3"/>
<circle cx="1353.7" cy="3174.1" r="19.3"/>
<circle cx="1360.4" cy="3173.6" r="19.3"/>
<circle cx="1367" cy="3175.5" r="19.3"/>
<circle cx="1373.7" cy="3174" r="19.3"/>
<circle cx="531.5" cy="3301.2" r="19.3"/>
</g>
<g fill="none" stroke="#00E680" stroke-width="5.4" stroke-linejoin="miter" stroke-miterlimit="10" shape-rendering="crispEdges">
<path d="M230.8 4186.7l19.7 26.3l-19.7 26.3l-19.7 -26.3zM236.6 3960.1l19.7 26.3l-19.7 26.3l-19.7 -26.3zM244.2 3810.1l19.7 26.3l-19.7 26.3l-19.7 -26.3zM251.2 3700.4l19.7 26.3l-19.7 26.3l-19.7 -26.3zM257.6 3612.7l19.7 26.3l-19.7 26.3l-19.7 -26.3zM263.4 3538.7l19.7 26.3l-19.7 26.3l-19.7 -26.3zM271.5 3478.7l19.7 26.3l-19.7 26.3l-19.7 -26.3zM278 3432.4l19.7 26.3l-19.7 26.3l-19.7 -26.3zM284.3 3392.3l19.7 26.3l-19.7 26.3l-19.7 -26.3zM290.8 3356.3l19.7 26.3l-19.7 26.3l-19.7 -26.3zM297.6 3330.7l19.7 26.3l-19.7 26.3l-19.7 -26.3zM302.9 3312.1l19.7 26.3l-19.7 26.3l-19.7 -26.3z"/>
<path d="M308.7 3295.7l19.7 26.3l-19.7 26.3l-19.7 -26.3zM314.5 3277.2l19.7 26.3l-19.7 26.3l-19.7 -26.3zM320.3 3263.2l19.7 26.3l-19.7 26.3l-19.7 -26.3zM329.5 3245.9l19.7 26.3l-19.7 26.3l-19.7 -26.3zM336.2 3235.8l19.7 26.3l-19.7 26.3l-19.7 -26.3zM342.8 3225.9l19.7 26.3l-19.7 26.3l-19.7 -26.3zM349.5 3217.6l19.7 26.3l-19.7 26.3l-19.7 -26.3zM356.1 3210.7l19.7 26.3l-19.7 26.3l-19.7 -26.3zM362.8 3204.6l19.7 26.3l-19.7 26.3l-19.7 -26.3zM369.5 3198.4l19.7 26.3l-19.7 26.3l-19.7 -26.3zM376.1 3195.3l19.7 26.3l-19.7 26.3l-19.7 -26.3zM382.8 3189.9l19.7 26.3l-19.7 26.3l-19.7 -26.3z"/>
<path d="M389.5 3186l19.7 26.3l-19.7 26.3l-19.7 -26.3zM396.1 3182.2l19.7 26.3l-19.7 26.3l-19.7 -26.3zM402.8 3178.9l19.7 26.3l-19.7 26.3l-19.7 -26.3zM409.4 3175.5l19.7 26.3l-19.7 26.3l-19.7 -26.3zM662 3149.9l19.7 26.3l-19.7 26.3l-19.7 -26.3zM668 3149.9l19.7 26.3l-19.7 26.3l-19.7 -26.3zM675.3 3149.9l19.7 26.3l-19.7 26.3l-19.7 -26.3zM681.5 3149.9l19.7 26.3l-19.7 26.3l-19.7 -26.3zM689.2 3154.7l19.7 26.3l-19.7 26.3l-19.7 -26.3zM703 3149.9l19.7 26.3l-19.7 26.3l-19.7 -26.3z"/>
</g>
<g fill="none" stroke="#0080E6" stroke-width="5.4" shape-rendering="crispEdges">
<rect x="216.4" y="4036.5" width="30.1" height="30.1"/>
<rect x="222.2" y="3636" width="30.1" height="30.1"/>
<rect x="228.6" y="3436.9" width="30.1" height="30.1"/>
<rect x="234.9" y="3356.9" width="30.1" height="30.1"/>
<rect x="242.6" y="3303.6" width="30.1" height="30.1"/>
<rect x="249" y="3276" width="30.1" height="30.1"/>
<rect x="256" y="3248.5" width="30.1" height="30.1"/>
<rect x="262" y="3242.2" width="30.1" height="30.1"/>
<rect x="269" y="3226" width="30.1" height="30.1"/>
<rect x="274.9" y="3220" width="30.1" height="30.1"/>
<rect x="283" y="3210.8" width="30.1" height="30.1"/>
<rect x="288.8" y="3205.7" width="30.1" height="30.1"/>
<rect x="295.8" y="3195.7" width="30.1" height="30.1"/>
<rect x="302" y="3192.7" width="30.1" height="30.1"/>
<rect x="308.7" y="3191.9" width="30.1" height="30.1"/>
<rect x="315.3" y="3186.5" width="30.1" height="30.1"/>
<rect x="322" y="3180.6" width="30.1" height="30.1"/>
<rect x="328.6" y="3177.1" width="30.1" height="30.1"/>
<rect x="335.3" y="3175.6" width="30.1" height="30.1"/>
<rect x="342" y="3175.6" width="30.1" height="30.1"/>
<rect x="348.6" y="3173.5" width="30.1" height="30.1"/>
<rect x="355.3" y="3169.7" width="30.1" height="30.1"/>
<rect x="361.9" y="3167" width="30.1" height="30.1"/>
<rect x="368.6" y="3165.9" width="30.1" height="30.1"/>
<rect x="375.3" y="3167.2" width="30.1" height="30.1"/>
<rect x="381.9" y="3163.8" width="30.1" height="30.1"/>
<rect x="388.6" y="3166.5" width="30.1" height="30.1"/>
<rect x="395.3" y="3165.2" width="30.1" height="30.1"/>
<rect x="401.9" y="3166.8" width="30.1" height="30.1"/>
<rect x="440" y="3163.1" width="30.1" height="30.1"/>
<rect x="446.6" y="3163.7" width="30.1" height="30.1"/>
<rect x="453.3" y="3162.8" width="30.1" height="30.1"/>
<rect x="459.9" y="3163.2" width="30.1" height="30.1"/>
<rect x="466.6" y="3165.1" width="30.1" height="30.1"/>
<rect x="473.3" y="3164.6" width="30.1" height="30.1"/>
<rect x="479.9" y="3163.6" width="30.1" height="30.1"/>
<rect x="486.6" y="3163.3" width="30.1" height="30.1"/>
<rect x="493.2" y="3162.4" width="30.1" height="30.1"/>
<rect x="499.9" y="3165.9" width="30.1" height="30.1"/>
<rect x="506.6" y="3168.4" width="30.1" height="30.1"/>
<rect x="513.2" y="3168.4" width="30.1" height="30.1"/>
<rect x="519.9" y="3168.4" width="30.1" height="30.1"/>
<rect x="526.6" y="3167.6" width="30.1" height="30.1"/>
<rect x="533.2" y="3168.4" width="30.1" height="30.1"/>
</g>
<rect x="625.1" y="3297.9" width="874.4" height="129.1" fill="#fff" stroke="#000" stroke-width="2"/>
<g fill="#000" stroke="#000" stroke-width="0.2">
<text x="633.6" y="3403" font-size="79.6">SAD</text>
<text x="809.8" y="3403" font-size="79.6">=</text>
<text x="877.1" y="3403" font-size="79.6" letter-spacing="-1">1.00</text>
<text x="1032.5" y="3403" font-size="79.6">Nm</text>
<text x="1151.7" y="3365" font-size="63.7">3</text>
<text x="1183" y="3403" font-size="79.6">.h</text>
<text x="1242.8" y="3365" font-size="63.7">-1</text>
<text x="1295.4" y="3403" font-size="79.6">.m</text>
<text x="1378.2" y="3365" font-size="63.7">-2</text>
</g>
</g>
<g class="legend">
<circle cx="245.5" cy="50" r="19" fill="none" stroke="#E600E6" stroke-width="5"/>
<path d="M572 25.5l18.5 24.5l-18.5 24.5l-18.5 -24.5z" fill="none" stroke="#00E680" stroke-width="5" stroke-miterlimit="10"/>
<rect x="1184.5" y="35" width="30" height="30" fill="none" stroke="#0080E6" stroke-width="5"/>
<g font-size="68.2" fill="#000" stroke="#000" stroke-width="0.2">
<text x="389" y="74">beads</text>
<text x="713.5" y="74">hollow cylinders</text>
<text x="1344" y="74">sheets</text>
</g>
<path d="M308 85.5h4l2 1h3M357 85.5h5l2 1h3.5" stroke="#000" stroke-width="1.2" fill="none"/>
</g>
</svg>
</body>
</html>
